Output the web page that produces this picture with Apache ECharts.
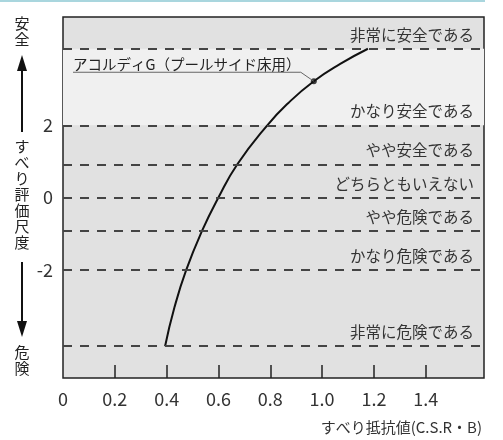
<!DOCTYPE html>
<html><head><meta charset="utf-8">
<script src="https://cdn.jsdelivr.net/npm/echarts@6/dist/echarts.min.js"></script>
<style>html,body{margin:0;padding:0;background:#fff}#c{width:503px;height:440px}</style>
</head><body><div id="c"></div>
<script>
// ---- data ----
const curveX = [0.394, 0.43, 0.475, 0.537, 0.60, 0.673, 0.786, 0.87, 0.968, 1.07, 1.177];
const curveY = [-4.12, -3.05, -2.02, -0.92, 0, 0.92, 1.98, 2.62, 3.22, 3.70, 4.12];
const productPoint = [0.968, 3.22];
const productName = 'アコルディG（プールサイド床用）';
const levelValues = [4.12, 2, 0.92, 0, -0.92, -2, -4.12];
const levelLabels = ['非常に安全である', 'かなり安全である', 'やや安全である', 'どちらともいえない', 'やや危険である', 'かなり危険である', '非常に危険である'];
const safeBand = [2, 4.12];
const xTickValues = [0, 0.2, 0.4, 0.6, 0.8, 1.0, 1.2, 1.4];
const yTickValues = [-2, 0, 2];
const xAxisName = 'すべり抵抗値(C.S.R・B)';
const yAxisName = 'すべり評価尺度';
const yTopLabel = '安全';
const yBottomLabel = '危険';

const FONT = '"Noto Sans CJK JP", "Noto Sans", sans-serif';
const chart = echarts.init(document.getElementById('c'), null, {renderer: 'canvas'});

const option = {
  animation: false,
  textStyle: {fontFamily: FONT},
  grid: {left: 63, right: 19, top: 17, bottom: 62, show: true, backgroundColor: '#e1e1e1', borderColor: '#222', borderWidth: 1.5},
  xAxis: {
    type: 'value', min: 0, max: 1.625, interval: 0.2,
    axisLine: {show: false, onZero: false},
    splitLine: {show: false},
    axisTick: {show: true, inside: true, length: 13, customValues: xTickValues.slice(1), lineStyle: {color: '#222', width: 1.5}},
    axisLabel: {customValues: xTickValues, margin: 12, fontSize: 18, color: '#333', fontFamily: FONT,
      formatter: v => (v > 1.45 ? '' : (v === 0 ? '0' : v.toFixed(1)))}
  },
  yAxis: {
    type: 'value', min: -5, max: 5, interval: 1,
    axisLine: {show: false, onZero: false},
    splitLine: {show: false},
    axisTick: {show: false},
    axisLabel: {customValues: yTickValues, margin: 10, fontSize: 18, color: '#333', fontFamily: FONT,
      formatter: v => (yTickValues.indexOf(v) >= 0 ? String(v) : '')}
  },
  series: [
    {
      type: 'line', smooth: 0.5, symbol: 'none', silent: true,
      data: curveX.map((x, i) => [x, curveY[i]]),
      lineStyle: {color: '#111', width: 2},
      markArea: {silent: true, itemStyle: {color: '#f0f0f0'}, data: [[{yAxis: safeBand[0]}, {yAxis: safeBand[1]}]]},
      markLine: {
        silent: true, symbol: ['none', 'none'],
        lineStyle: {type: [9, 8], color: '#444', width: 2},
        label: {position: 'insideEndTop', formatter: '{b}', color: '#333', fontSize: 15.5, fontFamily: FONT, distance: [10, 6]},
        data: levelValues.map((v, i) => ({yAxis: v, name: levelLabels[i]}))
      },
      z: 3
    },
    {
      type: 'scatter', silent: true, symbolSize: 6,
      itemStyle: {color: '#111'},
      data: [productPoint], z: 4
    }
  ]
};
chart.setOption(option);

let p = chart.convertToPixel({gridIndex: 0}, productPoint);
if (!p || isNaN(p[0])) {
  p = [chart.convertToPixel({xAxisIndex: 0}, productPoint[0]), chart.convertToPixel({yAxisIndex: 0}, productPoint[1])];
}
const ulY = p[1] - 9;
const ax = 22;
const vert = s => s.split('').join('\n');
chart.setOption({
  graphic: [
    {type: 'rect', shape: {x: 0, y: 0, width: 485, height: 2}, style: {fill: '#a9d6de'}, silent: true},
    {type: 'text', x: 73, y: ulY - 1, z: 10, style: {text: productName, font: '14.5px ' + FONT, fill: '#222', textAlign: 'left', textVerticalAlign: 'bottom'}},
    {type: 'polyline', z: 10, shape: {points: [[73, ulY], [p[0] - 13, ulY], [p[0], p[1]]]}, style: {stroke: '#666', lineWidth: 1, fill: null}},
    {type: 'text', x: 482, y: 427, style: {text: xAxisName, font: '15px ' + FONT, fill: '#333', textAlign: 'right', textVerticalAlign: 'middle'}},
    {type: 'text', x: ax, y: 15, style: {text: vert(yTopLabel), font: '15px ' + FONT, lineHeight: 16, fill: '#222', textAlign: 'center', textVerticalAlign: 'top'}},
    {type: 'polygon', shape: {points: [[ax, 55], [ax - 5, 71], [ax + 5, 71]]}, style: {fill: '#111'}},
    {type: 'line', shape: {x1: ax, y1: 70, x2: ax, y2: 132}, style: {stroke: '#111', lineWidth: 2}},
    {type: 'text', x: ax, y: 138, style: {text: vert(yAxisName), font: '15px ' + FONT, lineHeight: 16, fill: '#222', textAlign: 'center', textVerticalAlign: 'top'}},
    {type: 'line', shape: {x1: ax, y1: 262, x2: ax, y2: 322}, style: {stroke: '#111', lineWidth: 2}},
    {type: 'polygon', shape: {points: [[ax, 337], [ax - 5, 321], [ax + 5, 321]]}, style: {fill: '#111'}},
    {type: 'text', x: ax, y: 344, style: {text: vert(yBottomLabel), font: '15px ' + FONT, lineHeight: 16, fill: '#222', textAlign: 'center', textVerticalAlign: 'top'}}
  ]
});
</script></body></html>
